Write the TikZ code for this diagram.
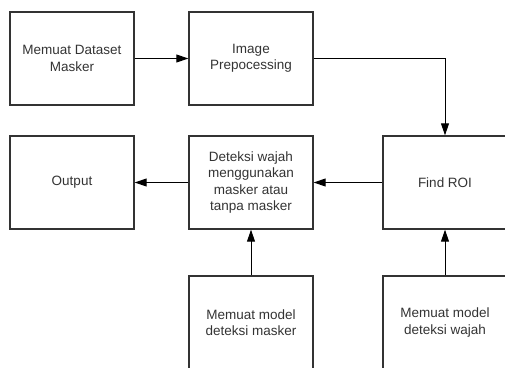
\documentclass[tikz,border=0pt]{standalone}
\usepackage{fontspec}
\setmainfont{Liberation Sans}
\usetikzlibrary{arrows.meta}
\begin{document}
\begin{tikzpicture}[x=1pt,y=-1pt,
  box/.style={draw=black!80, line width=1.4pt, minimum width=124pt, minimum height=93pt,
    align=center, text=black!80, inner sep=0pt, font=\fontsize{13.5}{16.5}\selectfont},
  flow/.style={line width=1pt, -{Triangle[length=12pt,width=8pt]}}]
  \useasboundingbox (0,0) rectangle (505,367);
  \clip (0,0) rectangle (505,367);
  % top row
  \node[box] (dataset) at (72,58.5) {Memuat Dataset\\Masker};
  \node[box] (prepro) at (251,58.5) {Image\\Prepocessing};
  % middle row
  \node[box] (output) at (72,182.5) {Output};
  \node[box] (deteksi) at (251,182.5) {Deteksi wajah\\menggunakan\\masker atau\\tanpa masker};
  \node[box] (roi) at (445,182.5) {Find ROI};
  % bottom row (cut by the page edge)
  \node[box] (mmasker) at (251,322.5) {Memuat model\\deteksi masker};
  \node[box] (mwajah) at (445,322.5) {Memuat model\\deteksi wajah};
  % connectors
  \draw[flow] (dataset) -- (prepro);
  \draw[flow] (prepro.east) -| (roi.north);
  \draw[flow] (roi) -- (deteksi);
  \draw[flow] (deteksi) -- (output);
  \draw[flow] (mmasker) -- (deteksi);
  \draw[flow] (mwajah) -- (roi);
\end{tikzpicture}
\end{document}
